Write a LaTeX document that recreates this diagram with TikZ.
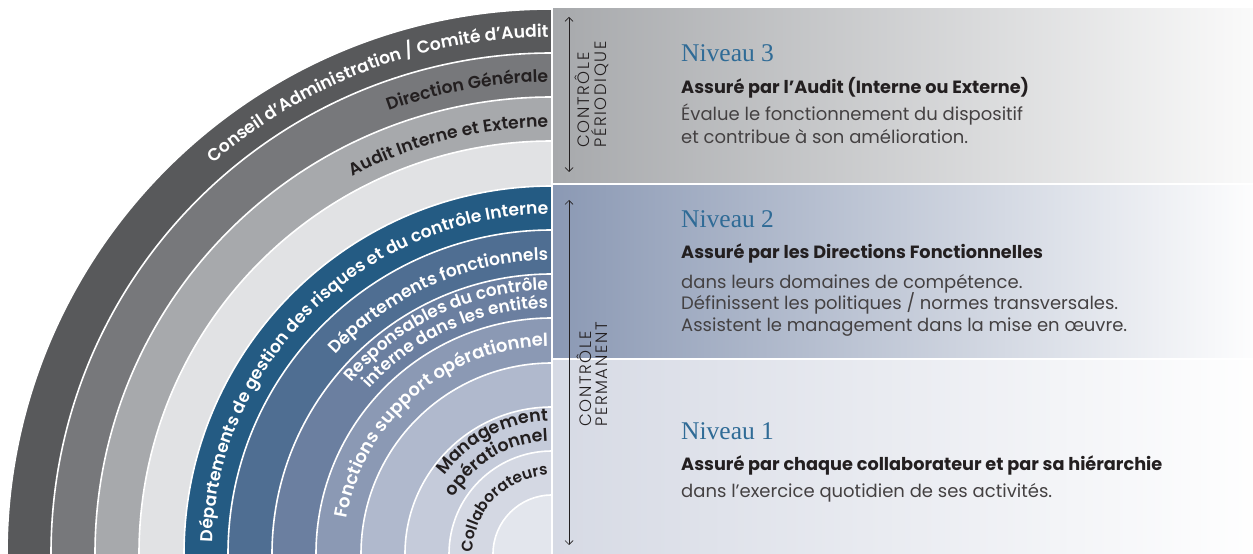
\documentclass[tikz,border=0pt]{standalone}
\usepackage{fontspec}
\setsansfont{Poppins}
\IfFontExistsTF{Poppins SemiBold}
  {\newfontfamily\ringfam{Poppins SemiBold}}
  {\newcommand\ringfam{\sffamily\bfseries}}
\IfFontExistsTF{Poppins Light}
  {\newfontfamily\ctrlfam{Poppins Light}[LetterSpace=10]}
  {\newfontfamily\ctrlfam{Poppins}[LetterSpace=10]}
\newfontfamily\nivfam{Liberation Serif}
\usepackage{xcolor}
\usepackage{tikz}
\usetikzlibrary{arrows.meta, positioning, decorations.text}
\definecolor{conseilgray}{HTML}{58595B}
\definecolor{directiongray}{HTML}{77787B}
\definecolor{auditgray}{HTML}{A7A9AC}
\definecolor{emptygray}{HTML}{E1E2E4}
\definecolor{riskblue}{HTML}{245B83}
\definecolor{fonctblue}{HTML}{4F6E92}
\definecolor{respblue}{HTML}{6B7FA0}
\definecolor{supportblue}{HTML}{8B99B4}
\definecolor{emptyblue}{HTML}{B0B9CD}
\definecolor{managblue}{HTML}{C5CBDA}
\definecolor{collabblue}{HTML}{D4D8E3}
\definecolor{coreblue}{HTML}{E3E6ED}
\definecolor{niveaublue}{HTML}{2F6B96}
\definecolor{inkgray}{HTML}{231F20}
\newcommand\ringsize[1]{\ringfam\fontsize{#1}{#1}\selectfont}

\begin{document}
\begin{tikzpicture}[x=1pt, y=1pt,
    ring/.style={draw=white, line width=1.6pt},
    onring/.style={decorate, decoration={text along path,
        text align={right, right indent=4pt}, text color=#1}},
    vline/.style={<->, >={Straight Barb[length=4pt,width=8pt]},
        line width=0.7pt, draw=inkgray},
    ctrl/.style={rotate=90, anchor=west, align=left, inner sep=0pt,
        font=\ctrlfam\fontsize{16.5}{16.5}\selectfont, text=inkgray},
    niveau/.style={anchor=base west, inner sep=0pt, text=niveaublue,
        font=\nivfam\fontsize{25.5}{25.5}\selectfont},
    lead/.style={anchor=base west, inner sep=0pt, text=inkgray,
        font=\sffamily\bfseries\fontsize{17.7}{17.7}\selectfont},
    body/.style={anchor=base west, inner sep=0pt, text=inkgray!85,
        font=\sffamily\fontsize{18}{18}\selectfont}
  ]
  \useasboundingbox (0,0) rectangle (1253,554);
  \fill[white] (0,0) rectangle (1253,554);
  \coordinate (c) at (552,0);

  % rings, outside in
  \filldraw[ring, fill=conseilgray] (c) ++(180:545) arc[start angle=180, end angle=90, radius=545] -- (c);
  \filldraw[ring, fill=directiongray] (c) ++(180:501) arc[start angle=180, end angle=90, radius=501] -- (c);
  \filldraw[ring, fill=auditgray] (c) ++(180:457) arc[start angle=180, end angle=90, radius=457] -- (c);
  \filldraw[ring, fill=emptygray] (c) ++(180:413) arc[start angle=180, end angle=90, radius=413] -- (c);
  \filldraw[ring, fill=riskblue] (c) ++(180:368) arc[start angle=180, end angle=90, radius=368] -- (c);
  \filldraw[ring, fill=fonctblue] (c) ++(180:324) arc[start angle=180, end angle=90, radius=324] -- (c);
  \filldraw[ring, fill=respblue] (c) ++(180:280) arc[start angle=180, end angle=90, radius=280] -- (c);
  \filldraw[ring, fill=supportblue] (c) ++(180:236) arc[start angle=180, end angle=90, radius=236] -- (c);
  \filldraw[ring, fill=emptyblue] (c) ++(180:191) arc[start angle=180, end angle=90, radius=191] -- (c);
  \filldraw[ring, fill=managblue] (c) ++(180:147) arc[start angle=180, end angle=90, radius=147] -- (c);
  \filldraw[ring, fill=collabblue] (c) ++(180:103) arc[start angle=180, end angle=90, radius=103] -- (c);
  \filldraw[ring, fill=coreblue] (c) ++(180:59) arc[start angle=180, end angle=90, radius=59] -- (c);

  % ring labels
  \path[onring=white, decoration={text={|\ringsize{17.2}|Conseil d’Administration / Comité d’Audit}}]
    (c) ++(180:517) arc[start angle=180, end angle=90, radius=517];
  \path[onring=inkgray, decoration={text={|\ringsize{17.2}|Direction Générale}}]
    (c) ++(180:472) arc[start angle=180, end angle=90, radius=472];
  \path[onring=inkgray, decoration={text={|\ringsize{17.2}|Audit Interne et Externe}}]
    (c) ++(180:427) arc[start angle=180, end angle=90, radius=427];
  \path[onring=white, decoration={text={|\ringsize{17.2}|Départements de gestion des risques et du contrôle Interne}}]
    (c) ++(180:340) arc[start angle=180, end angle=90, radius=340];
  \path[onring=white, decoration={text={|\ringsize{17.2}|Départements fonctionnels}}]
    (c) ++(180:294) arc[start angle=180, end angle=90, radius=294];
  \path[onring=white, decoration={text={|\ringsize{17}|Responsables du contrôle}}]
    (c) ++(180:264) arc[start angle=180, end angle=90, radius=264];
  \path[onring=white, decoration={text={|\ringsize{17}|interne dans les entités}}]
    (c) ++(180:246) arc[start angle=180, end angle=90, radius=246];
  \path[onring=white, decoration={text={|\ringsize{18}|Fonctions support opérationnel}}]
    (c) ++(180:208) arc[start angle=180, end angle=90, radius=208];
  \path[onring=inkgray, decoration={text={|\ringsize{17.5}|Management}}]
    (c) ++(180:133) arc[start angle=180, end angle=90, radius=133];
  \path[onring=inkgray, decoration={text={|\ringsize{17.5}|opérationnel}}]
    (c) ++(180:113) arc[start angle=180, end angle=90, radius=113];
  \path[onring=inkgray, decoration={text={|\ringsize{15.5}|Collaborateurs}}]
    (c) ++(180:79) arc[start angle=180, end angle=90, radius=79];

  % level panels
  \shade[left color=auditgray, right color=white!96!gray] (553,371) rectangle (1253,545);
  \shade[left color=supportblue, right color=white!95!collabblue] (553,196) rectangle (1253,368);
  \shade[left color=collabblue!95!white, right color=white!97!coreblue] (553,0) rectangle (1253,193);

  % control arrows
  \coordinate (pertop) at (569,537);
  \coordinate (perbot) at (569,382);
  \coordinate (permtop) at (569,354);
  \coordinate (permbot) at (569,9);
  \draw[vline] (pertop) -- (perbot);
  \draw[vline] (permtop) -- (permbot);
  \node[ctrl] (periodic) at (592,406) {CONTRÔLE\\PÉRIODIQUE};
  \node[ctrl] (permanent) at (592,127) {CONTRÔLE\\PERMANENT};

  % level texts
  \node[niveau] (n3) at (681,492) {Niveau 3};
  \node[lead] (l3) at (681,460) {Assuré par l’Audit (Interne ou Externe)};
  \node[body] (b3a) at (681,433) {Évalue le fonctionnement du dispositif};
  \node[body] (b3b) at (681,410) {et contribue à son amélioration.};

  \node[niveau] (n2) at (681,326) {Niveau 2};
  \node[lead] (l2) at (681,295) {Assuré par les Directions Fonctionnelles};
  \node[body] (b2a) at (681,265) {dans leurs domaines de compétence.};
  \node[body] (b2b) at (681,244) {Définissent les politiques / normes transversales.};
  \node[body] (b2c) at (681,222) {Assistent le management dans la mise en œuvre.};

  \node[niveau] (n1) at (681,114) {Niveau 1};
  \node[lead] (l1) at (681,83) {Assuré par chaque collaborateur et par sa hiérarchie};
  \node[body] (b1a) at (681,56) {dans l’exercice quotidien de ses activités.};
\end{tikzpicture}
\end{document}
